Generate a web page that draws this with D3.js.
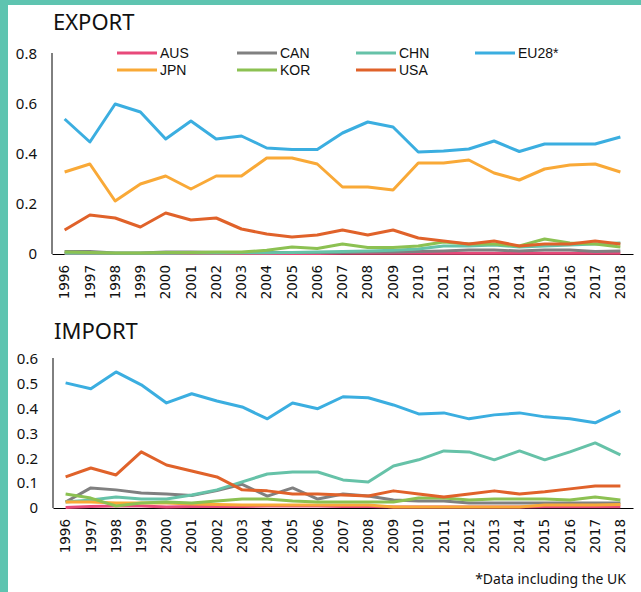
<!DOCTYPE html>
<html><head><meta charset="utf-8">
<script src="https://cdn.jsdelivr.net/npm/d3@7"></script>
<style>body{margin:0;background:#fff}svg{display:block}</style>
</head><body><svg id="c" width="641" height="592"></svg>
<script>
const years = d3.range(1996, 2019).map(String);
const seriesNames = ["AUS","CAN","CHN","EU28*","JPN","KOR","USA"];
const seriesColors = ["#E8497A","#808080","#66C2A8","#3BAEE0","#F9A937","#8CC152","#E0622A"];

const exportAUS = [0.002,0.002,0.002,0.002,0.002,0.002,0.002,0.002,0.002,0.002,0.002,0.003,0.003,0.003,0.003,0.003,0.003,0.003,0.003,0.003,0.003,0.003,0.003];
const exportCAN = [0.01,0.01,0.004,0.004,0.008,0.008,0.006,0.006,0.006,0.006,0.006,0.006,0.008,0.008,0.01,0.012,0.016,0.016,0.012,0.016,0.016,0.01,0.012];
const exportCHN = [0.003,0.003,0.003,0.003,0.003,0.004,0.004,0.005,0.005,0.006,0.008,0.01,0.012,0.015,0.02,0.032,0.032,0.036,0.028,0.032,0.036,0.04,0.044];
const exportEU28 = [0.54,0.448,0.6,0.568,0.46,0.532,0.46,0.472,0.424,0.418,0.418,0.484,0.528,0.508,0.408,0.412,0.42,0.452,0.41,0.44,0.44,0.44,0.468];
const exportJPN = [0.328,0.36,0.212,0.28,0.312,0.26,0.312,0.312,0.384,0.384,0.36,0.268,0.268,0.256,0.364,0.364,0.376,0.324,0.296,0.34,0.356,0.36,0.328];
const exportKOR = [0.008,0.006,0.004,0.004,0.006,0.006,0.008,0.008,0.015,0.028,0.022,0.04,0.026,0.026,0.032,0.048,0.04,0.04,0.032,0.06,0.044,0.04,0.028];
const exportUSA = [0.096,0.156,0.144,0.108,0.164,0.136,0.144,0.1,0.08,0.068,0.076,0.096,0.076,0.096,0.064,0.052,0.04,0.052,0.032,0.04,0.04,0.052,0.04];

const importAUS = [0.002,0.006,0.008,0.008,0.004,0.006,0.006,0.006,0.008,0.008,0.008,0.006,0.006,0.004,0.004,0.004,0.004,0.004,0.004,0.005,0.005,0.005,0.005];
const importCAN = [0.024,0.081,0.073,0.06,0.056,0.05,0.07,0.095,0.048,0.081,0.036,0.056,0.048,0.032,0.028,0.028,0.02,0.02,0.02,0.02,0.02,0.02,0.02];
const importCHN = [0.024,0.032,0.044,0.036,0.036,0.052,0.073,0.105,0.137,0.145,0.145,0.113,0.105,0.169,0.194,0.23,0.226,0.194,0.23,0.194,0.226,0.262,0.214];
const importEU28 = [0.504,0.48,0.548,0.496,0.423,0.46,0.431,0.407,0.359,0.423,0.4,0.448,0.444,0.415,0.379,0.383,0.359,0.375,0.383,0.367,0.359,0.343,0.391];
const importJPN = [0.024,0.024,0.02,0.02,0.02,0.016,0.014,0.012,0.012,0.012,0.012,0.012,0.012,0.004,0.004,0.004,0.004,0.004,0.004,0.012,0.012,0.012,0.014];
const importKOR = [0.056,0.04,0.008,0.02,0.024,0.02,0.028,0.036,0.036,0.028,0.024,0.024,0.024,0.024,0.04,0.04,0.032,0.036,0.036,0.036,0.032,0.044,0.032];
const importUSA = [0.125,0.161,0.133,0.226,0.173,0.149,0.125,0.073,0.069,0.056,0.056,0.052,0.048,0.069,0.056,0.044,0.056,0.069,0.056,0.065,0.077,0.089,0.089];

const exportTicks = [0, 0.2, 0.4, 0.6, 0.8];
const importTicks = [0, 0.1, 0.2, 0.3, 0.4, 0.5, 0.6];

const exportSeries = [exportAUS, exportCAN, exportCHN, exportEU28, exportJPN, exportKOR, exportUSA];
const importSeries = [importAUS, importCAN, importCHN, importEU28, importJPN, importKOR, importUSA];

const svg = d3.select("#c");
const border = "#5EC4B0";
svg.append("rect").attr("x",0).attr("y",0).attr("width",641).attr("height",5).attr("fill",border);
svg.append("rect").attr("x",0).attr("y",0).attr("width",8).attr("height",592).attr("fill",border);

const tickFmt = v => v === 0 ? "0" : d3.format(".1f")(v);

function panel(opts){
  const g = svg.append("g");
  const x = d3.scaleBand().domain(years).range([opts.x0, 633]);
  const y = d3.scaleLinear().domain([0, opts.max]).range([opts.y0, opts.y1]);
  g.append("text").attr("x", opts.x0 + 1).attr("y", opts.titleY)
    .attr("font-family","Noto Sans").attr("font-size",22).attr("fill","#111").text(opts.title);
  const ya = g.append("g").attr("transform",`translate(${opts.x0},0)`)
    .call(d3.axisLeft(y).tickValues(opts.ticks).tickFormat(tickFmt).tickSize(0).tickPadding(15));
  ya.select(".domain").attr("stroke","#000").attr("d",`M0,${opts.y1-1}V${opts.y0}`);
  ya.selectAll("text").attr("font-family","Noto Sans").attr("font-size",15).attr("fill","#111");
  const xa = g.append("g").attr("transform",`translate(0,${opts.y0})`)
    .call(d3.axisBottom(x).tickSize(0).tickPadding(0));
  xa.select(".domain").attr("stroke","#000");
  xa.selectAll("text").attr("font-family","DejaVu Sans").attr("font-size",13.5).attr("fill","#111")
    .attr("text-anchor","end").attr("dy","0.35em")
    .attr("transform","translate(0,11) rotate(-90)").attr("x",0).attr("y",0);
  const line = d3.line().x((d,i)=>x(years[i]) + x.bandwidth()/2).y(d=>y(d));
  opts.series.forEach((s,k)=>{
    g.append("path").datum(s).attr("d",line).attr("fill","none")
      .attr("stroke",seriesColors[k]).attr("stroke-width",3).attr("stroke-linejoin","round");
  });
  return g;
}

panel({title:"EXPORT", titleY:30, x0:52, y0:254, y1:54, max:0.8, ticks:exportTicks, series:exportSeries});
panel({title:"IMPORT", titleY:339, x0:53, y0:508, y1:359, max:0.6, ticks:importTicks, series:importSeries});

const legX = [117, 237, 356, 475];
const legY = [53, 70];
const leg = svg.append("g");
seriesNames.forEach((n,i)=>{
  const cx = legX[i % 4], cy = legY[Math.floor(i/4)];
  leg.append("line").attr("x1",cx).attr("x2",cx+40).attr("y1",cy).attr("y2",cy)
    .attr("stroke",seriesColors[i]).attr("stroke-width",3);
  leg.append("text").attr("x",cx+43).attr("y",cy).attr("dy","0.35em")
    .attr("font-family","Liberation Sans").attr("font-size",14).attr("fill","#111").text(n);
});

svg.append("text").attr("x",626).attr("y",584).attr("text-anchor","end")
  .attr("font-family","Noto Sans").attr("font-size",14).attr("fill","#111").text("*Data including the UK");
</script></body></html>
